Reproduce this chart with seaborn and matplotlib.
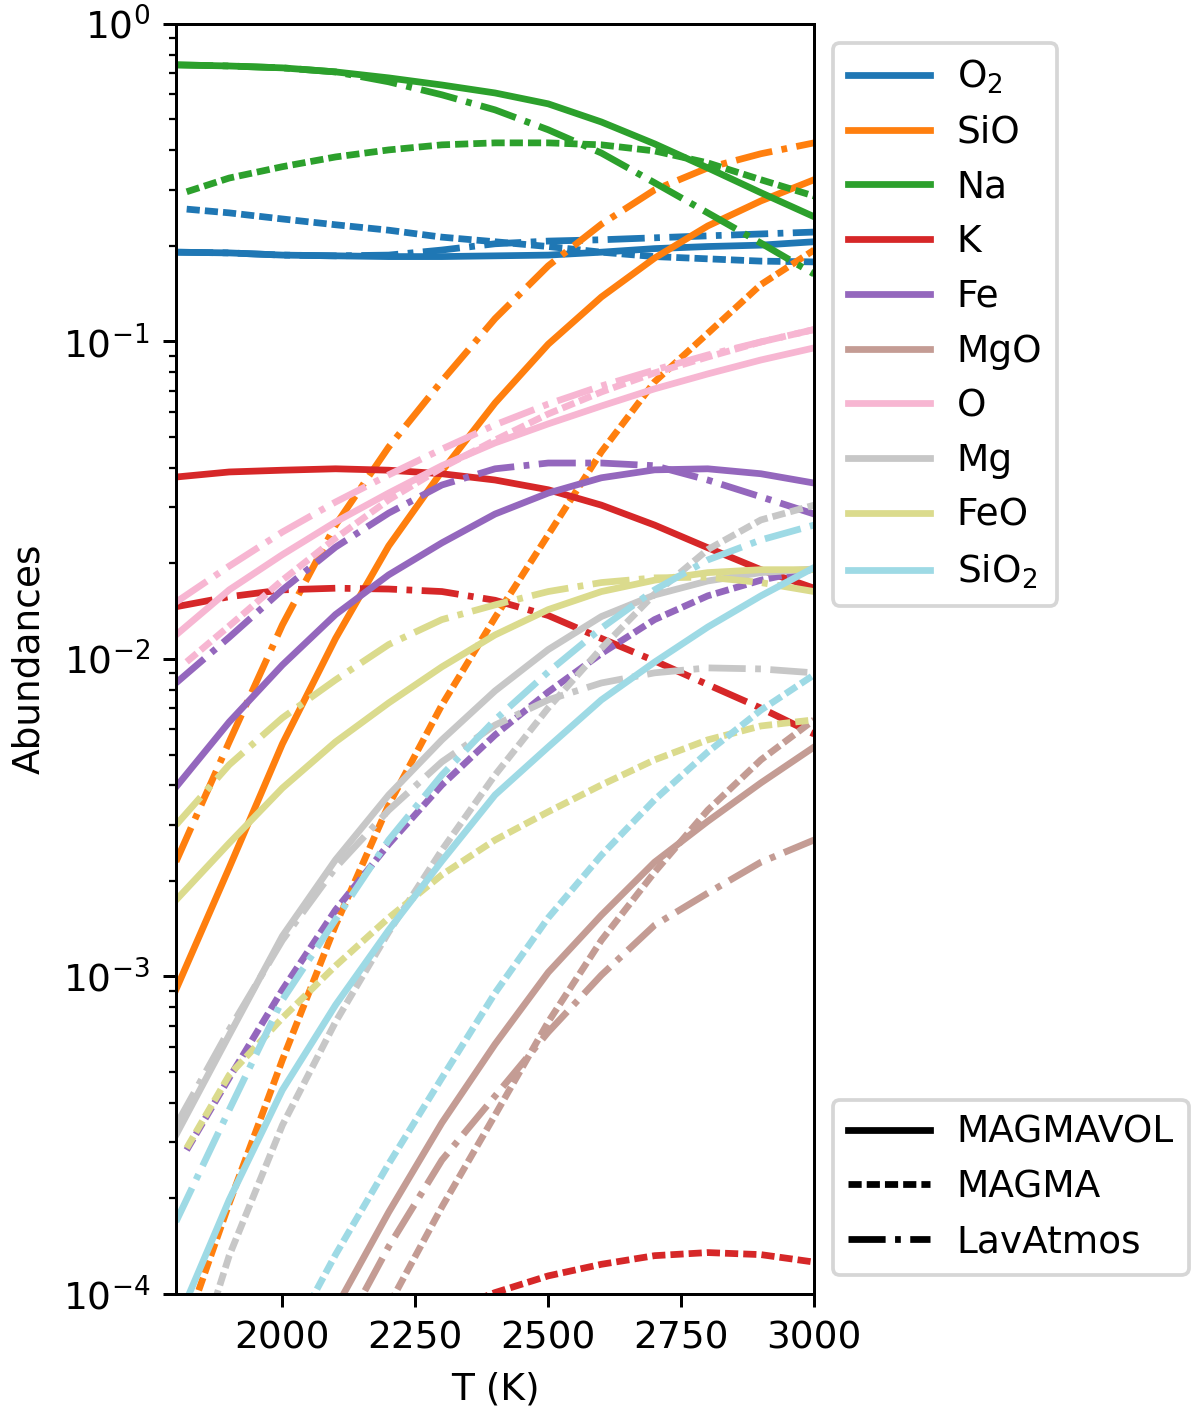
import matplotlib
matplotlib.use('Agg')
import matplotlib.pyplot as plt
from matplotlib.lines import Line2D
import pandas as pd
import seaborn as sns

# temperature grids (K)
T = [1800, 1900, 2000, 2100, 2200, 2300, 2400, 2500, 2600, 2700, 2800, 2900, 3000]
T_magma = [1820, 1900, 2000, 2100, 2200, 2300, 2400, 2500, 2600, 2700, 2800, 2900, 3000]

species = [r'O$_2$', 'SiO', 'Na', 'K', 'Fe', 'MgO', 'O', 'Mg', 'FeO', r'SiO$_2$']
models = ['MAGMAVOL', 'MAGMA', 'LavAtmos']
colors = ['#1f77b4', '#ff7f0e', '#2ca02c', '#d62728', '#9467bd',
          '#c49c94', '#f7b6d2', '#c7c7c7', '#dbdb8d', '#9edae5']

N = None  # below the plotted range

# abundances, one list per species
magmavol = {
    r'O$_2$': [0.191, 0.190, 0.187, 0.186, 0.185, 0.185, 0.186, 0.187, 0.191, 0.196, 0.199, 0.201, 0.206],
    'SiO': [9.1e-4, 2.2e-3, 5.4e-3, 1.16e-2, 2.27e-2, 3.9e-2, 6.4e-2, 9.8e-2, 0.138, 0.183, 0.231, 0.277, 0.323],
    'Na': [0.743, 0.737, 0.727, 0.706, 0.676, 0.642, 0.606, 0.560, 0.491, 0.419, 0.352, 0.294, 0.247],
    'K': [0.0374, 0.0388, 0.0393, 0.0397, 0.0393, 0.0383, 0.0366, 0.0341, 0.0305, 0.0264, 0.0224, 0.0191, 0.0167],
    'Fe': [3.95e-3, 6.33e-3, 9.57e-3, 1.38e-2, 1.84e-2, 2.32e-2, 2.86e-2, 3.33e-2, 3.72e-2, 3.94e-2, 3.97e-2, 3.83e-2, 3.58e-2],
    'MgO': [N, N, N, 9.0e-5, 1.81e-4, 3.46e-4, 6.12e-4, 1.03e-3, 1.56e-3, 2.29e-3, 3.08e-3, 4.07e-3, 5.28e-3],
    'O': [1.19e-2, 1.65e-2, 2.13e-2, 2.70e-2, 3.33e-2, 4.06e-2, 4.79e-2, 5.50e-2, 6.26e-2, 7.09e-2, 7.90e-2, 8.74e-2, 9.54e-2],
    'Mg': [3.17e-4, 6.54e-4, 1.34e-3, 2.33e-3, 3.73e-3, 5.56e-3, 7.93e-3, 1.07e-2, 1.36e-2, 1.59e-2, 1.76e-2, 1.87e-2, 1.92e-2],
    'FeO': [1.74e-3, 2.63e-3, 3.92e-3, 5.48e-3, 7.27e-3, 9.44e-3, 1.19e-2, 1.43e-2, 1.63e-2, 1.77e-2, 1.87e-2, 1.91e-2, 1.91e-2],
    r'SiO$_2$': [8.0e-5, 1.98e-4, 4.39e-4, 8.13e-4, 1.40e-3, 2.31e-3, 3.73e-3, 5.28e-3, 7.43e-3, 9.77e-3, 1.26e-2, 1.58e-2, 1.94e-2],
}

magma = {
    r'O$_2$': [0.261, 0.254, 0.243, 0.233, 0.224, 0.213, 0.206, 0.199, 0.191, 0.185, 0.182, 0.179, 0.178],
    'SiO': [8.0e-5, 1.93e-4, 5.46e-4, 1.45e-3, 3.47e-3, 7.16e-3, 1.35e-2, 2.46e-2, 4.49e-2, 7.46e-2, 0.106, 0.151, 0.194],
    'Na': [0.296, 0.327, 0.355, 0.381, 0.401, 0.416, 0.422, 0.422, 0.416, 0.398, 0.365, 0.323, 0.287],
    'K': [N, N, N, N, N, 8.7e-5, 1.01e-4, 1.14e-4, 1.24e-4, 1.32e-4, 1.35e-4, 1.33e-4, 1.26e-4],
    'Fe': [2.84e-4, 4.79e-4, 9.07e-4, 1.62e-3, 2.61e-3, 4.01e-3, 5.76e-3, 7.87e-3, 1.04e-2, 1.33e-2, 1.58e-2, 1.77e-2, 1.92e-2],
    'MgO': [N, N, N, N, 9.2e-5, 1.88e-4, 3.66e-4, 7.19e-4, 1.30e-3, 2.13e-3, 3.34e-3, 4.81e-3, 6.43e-3],
    'O': [9.79e-3, 1.27e-2, 1.77e-2, 2.40e-2, 3.17e-2, 4.00e-2, 4.89e-2, 5.91e-2, 6.93e-2, 7.96e-2, 8.93e-2, 9.96e-2, 0.109],
    'Mg': [5.0e-5, 1.32e-4, 3.40e-4, 7.19e-4, 1.38e-3, 2.50e-3, 4.31e-3, 7.01e-3, 1.08e-2, 1.60e-2, 2.21e-2, 2.74e-2, 3.05e-2],
    'FeO': [2.88e-4, 4.89e-4, 7.40e-4, 1.08e-3, 1.53e-3, 2.09e-3, 2.69e-3, 3.30e-3, 4.01e-3, 4.81e-3, 5.56e-3, 6.15e-3, 6.43e-3],
    r'SiO$_2$': [N, N, 6.5e-5, 1.33e-4, 2.57e-4, 4.79e-4, 8.87e-4, 1.53e-3, 2.41e-3, 3.60e-3, 5.09e-3, 6.90e-3, 8.91e-3],
}

lavatmos = {
    r'O$_2$': [0.191, 0.190, 0.187, 0.186, 0.187, 0.194, 0.203, 0.207, 0.209, 0.212, 0.215, 0.218, 0.221],
    'SiO': [2.30e-3, 5.48e-3, 1.28e-2, 2.64e-2, 4.65e-2, 7.51e-2, 0.118, 0.173, 0.234, 0.300, 0.352, 0.390, 0.422],
    'Na': [0.743, 0.737, 0.727, 0.706, 0.657, 0.598, 0.536, 0.464, 0.392, 0.316, 0.254, 0.204, 0.163],
    'K': [0.0146, 0.0157, 0.0165, 0.0167, 0.0166, 0.0163, 0.0153, 0.0137, 0.0116, 0.00986, 0.0083, 0.0070, 0.0058],
    'Fe': [8.4e-3, 1.17e-2, 1.65e-2, 2.25e-2, 2.88e-2, 3.53e-2, 3.97e-2, 4.14e-2, 4.14e-2, 4.06e-2, 3.66e-2, 3.24e-2, 2.86e-2],
    'MgO': [N, N, N, 6.9e-5, 1.41e-4, 2.64e-4, 4.20e-4, 6.68e-4, 1.01e-3, 1.45e-3, 1.83e-3, 2.29e-3, 2.69e-3],
    'O': [1.51e-2, 1.96e-2, 2.51e-2, 3.12e-2, 3.80e-2, 4.58e-2, 5.46e-2, 6.35e-2, 7.24e-2, 8.13e-2, 9.06e-2, 9.96e-2, 0.109],
    'Mg': [3.4e-4, 6.8e-4, 1.30e-3, 2.20e-3, 3.34e-3, 4.74e-3, 6.19e-3, 7.43e-3, 8.40e-3, 9.04e-3, 9.37e-3, 9.30e-3, 9.04e-3],
    'FeO': [3.0e-3, 4.64e-3, 6.52e-3, 8.59e-3, 1.11e-2, 1.33e-2, 1.48e-2, 1.63e-2, 1.74e-2, 1.80e-2, 1.81e-2, 1.74e-2, 1.63e-2],
    r'SiO$_2$': [1.69e-4, 3.80e-4, 8.43e-4, 1.51e-3, 2.69e-3, 4.31e-3, 6.43e-3, 9.10e-3, 1.25e-2, 1.65e-2, 2.05e-2, 2.37e-2, 2.64e-2],
}

# ------------------------------------------------------------
# long table for seaborn
# ------------------------------------------------------------
rows = []
for model, temps, table in [('MAGMAVOL', T, magmavol), ('MAGMA', T_magma, magma), ('LavAtmos', T, lavatmos)]:
    for sp in species:
        for t, v in zip(temps, table[sp]):
            if v is not None:
                rows.append({'T': t, 'abundance': v, 'species': sp, 'model': model})
df = pd.DataFrame(rows)

palette = dict(zip(species, colors))
dash_map = {'MAGMAVOL': '', 'MAGMA': (1.95, 0.75), 'LavAtmos': (5.5, 1.4, 0.85, 1.4)}
lw = 1.8

DPI = 270
fig = plt.figure(figsize=(1200 / DPI, 1414 / DPI), dpi=DPI)
ax = fig.add_axes([0.1467, 0.0849, 0.5317, 0.8982])

sns.lineplot(data=df, x='T', y='abundance', hue='species', style='model',
             hue_order=species, style_order=models, palette=palette,
             dashes=dash_map, linewidth=lw, estimator=None, sort=True,
             legend=False, ax=ax)

ax.set_yscale('log')
ax.set_ylim(1e-4, 1)
ax.set_xlim(1800, 3000)
ax.set_xticks([2000, 2250, 2500, 2750, 3000])
ax.set_xlabel('T (K)')
ax.set_ylabel('Abundances')

# legends
sp_handles = [Line2D([0], [0], color=c, lw=lw) for c in colors]
leg1 = ax.legend(sp_handles, species, loc='upper left', bbox_to_anchor=(1, 1),
                 handlelength=2.2, handletextpad=0.7)
ax.add_artist(leg1)

model_handles = [Line2D([0], [0], color='black', lw=lw, linestyle='-'),
                 Line2D([0], [0], color='black', lw=lw, linestyle=(0, dash_map['MAGMA'])),
                 Line2D([0], [0], color='black', lw=lw, linestyle=(0, dash_map['LavAtmos']))]
ax.legend(model_handles, models, loc='lower left', bbox_to_anchor=(1, 0),
          handlelength=2.2, handletextpad=0.7)

fig.savefig('out.png', dpi=DPI)
